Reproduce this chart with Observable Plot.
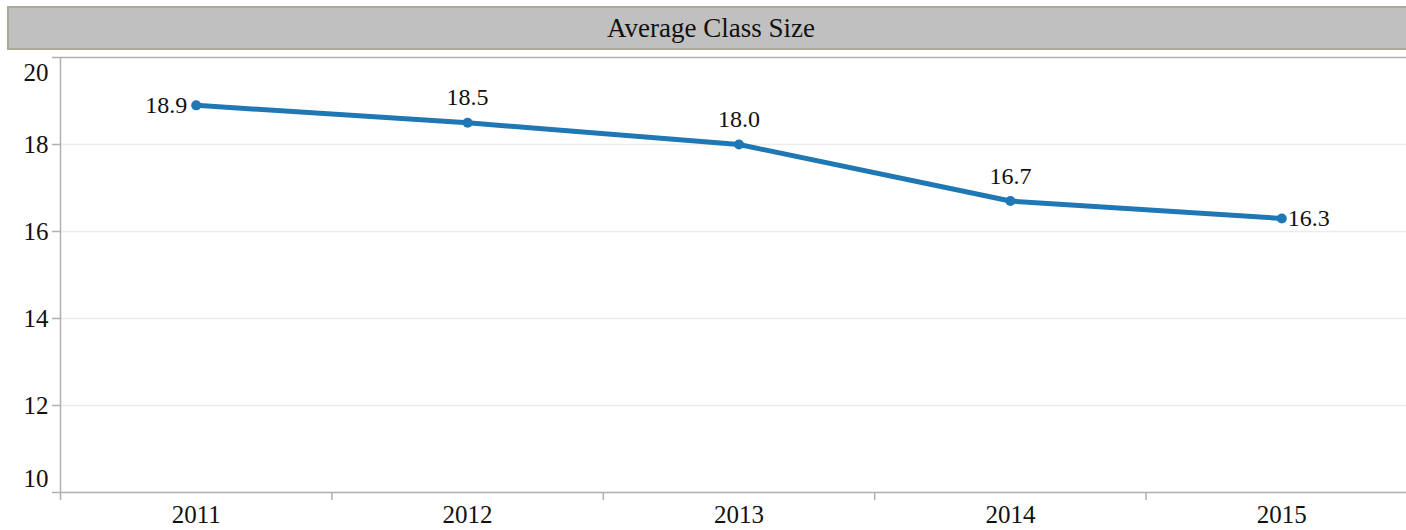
<!DOCTYPE html>
<html>
<head>
<meta charset="utf-8">
<script src="https://cdn.jsdelivr.net/npm/d3@7"></script>
<script src="https://cdn.jsdelivr.net/npm/@observablehq/plot@0.6"></script>
<style>
  html, body { margin: 0; padding: 0; background: #fff; overflow: hidden; width: 1406px; height: 530px; }
  #title {
    position: absolute; left: 7px; top: 6px; width: 1404px; height: 44px;
    box-sizing: border-box; background: #c0c0c0; border: 2px solid #aca996;
    font-family: "Liberation Serif", serif; font-size: 27px; color: #111;
    display: flex; align-items: center; justify-content: center; padding-left: 4px;
  }
  #chart { position: absolute; left: 0; top: 50px; }
</style>
</head>
<body>
<div id="title">Average Class Size</div>
<div id="chart"></div>
<script>
const years = [2011, 2012, 2013, 2014, 2015];
const classSize = [18.9, 18.5, 18.0, 16.7, 16.3];
const yTicks = [10, 12, 14, 16, 18, 20];
const yGrid = [12, 14, 16, 18];

const data = years.map((year, i) => ({year, value: classSize[i]}));
const xBounds = years.map(y => y - 0.5);
const font = "Liberation Serif, serif";

const chart = Plot.plot({
  width: 1406,
  height: 480,
  marginLeft: 60,
  marginRight: -11,
  marginTop: 7,
  marginBottom: 38,
  style: {fontFamily: font, fontSize: "25px", color: "#111", background: "transparent", overflow: "visible"},
  x: {type: "linear", domain: [2010.5, 2015.5]},
  y: {domain: [10, 20]},
  marks: [
    Plot.gridY(yGrid, {stroke: "#ececec", strokeOpacity: 1, strokeWidth: 1.5}),
    Plot.ruleY([20], {stroke: "#b0b0b0", strokeWidth: 1.5, x1: 2010.5, x2: 2015.5}),
    Plot.ruleY([10], {stroke: "#b0b0b0", strokeWidth: 1.5, x1: 2010.5, x2: 2015.5}),
    Plot.ruleX([2010.5], {stroke: "#b0b0b0", strokeWidth: 1.5, y1: 10, y2: 20}),
    Plot.axisY(yTicks, {tickSize: 8, tickFormat: () => "", stroke: "#b0b0b0", strokeWidth: 1.5, label: null}),
    Plot.text(yGrid, {y: d => d, x: 2010.5, text: d => String(d), textAnchor: "end", dx: -12, fontSize: 25, fill: "#111"}),
    Plot.text([10], {y: d => d, x: 2010.5, text: d => String(d), textAnchor: "end", dx: -12, dy: -14, fontSize: 25, fill: "#111"}),
    Plot.text([20], {y: d => d, x: 2010.5, text: d => String(d), textAnchor: "end", dx: -12, dy: 15, fontSize: 25, fill: "#111"}),
    Plot.axisX(xBounds, {tickSize: 8, tickFormat: () => "", stroke: "#b0b0b0", strokeWidth: 1.5, label: null}),
    Plot.axisX(years, {tickSize: 0, tickPadding: 13, tickFormat: d => String(d), fontSize: 25, fill: "#111", label: null}),
    Plot.line(data, {x: "year", y: "value", stroke: "#1f77b4", strokeWidth: 5}),
    Plot.dot(data, {x: "year", y: "value", r: 5, fill: "#1f77b4"}),
    Plot.text(data, {filter: d => d.year === 2011, x: "year", y: "value", text: d => d.value.toFixed(1), textAnchor: "end", dx: -9, fontSize: 24, fill: "#111"}),
    Plot.text(data, {filter: d => d.year > 2011 && d.year < 2015, x: "year", y: "value", text: d => d.value.toFixed(1), dy: -25, fontSize: 24, fill: "#111"}),
    Plot.text(data, {filter: d => d.year === 2015, x: "year", y: "value", text: d => d.value.toFixed(1), textAnchor: "start", dx: 6, fontSize: 24, fill: "#111"})
  ]
});
document.getElementById("chart").appendChild(chart);
</script>
</body>
</html>
